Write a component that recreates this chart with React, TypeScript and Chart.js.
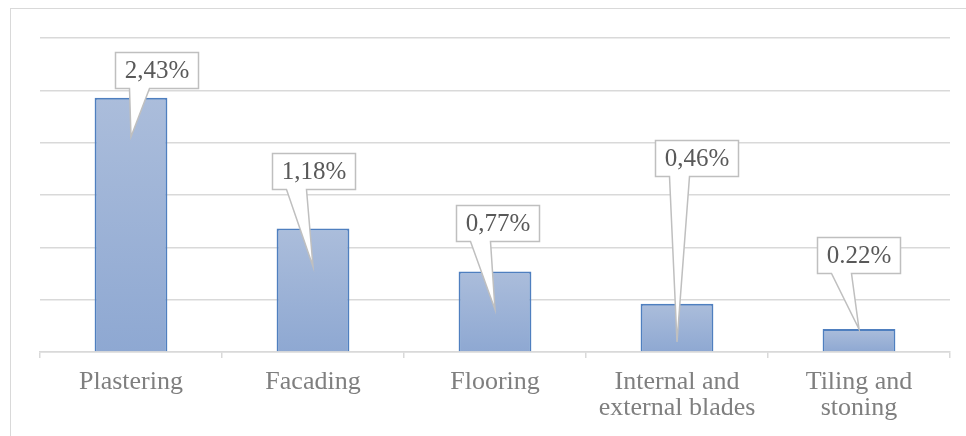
import React, { useEffect, useRef } from "react";
import { Chart, registerables } from "chart.js";

Chart.register(...registerables);

const FONT = "'Liberation Serif', serif";

const categories: (string | string[])[] = [
  "Plastering",
  "Facading",
  "Flooring",
  ["Internal and", "external blades"],
  ["Tiling and", "stoning"],
];
const values = [2.43, 1.18, 0.77, 0.46, 0.22];
const valueLabels = ["2,43%", "1,18%", "0,77%", "0,46%", "0.22%"];
const yMin = 0;
const yMax = 3;
const yStep = 0.5;

// callout placement relative to each bar (layout only)
const calloutPlacement = [
  { dx: 25, gap: 10, tip: 39 },
  { dx: 0, gap: 39, tip: 38 },
  { dx: 2, gap: 30, tip: 38 },
  { dx: 19, gap: 128, tip: 38 },
  { dx: -1, gap: 56, tip: 0 },
];

const calloutPlugin = {
  id: "callouts",
  afterDatasetsDraw(chart: any) {
    const meta = chart.getDatasetMeta(0);
    const ctx = chart.ctx as CanvasRenderingContext2D;
    ctx.save();
    ctx.font = `25px ${FONT}`;
    meta.data.forEach((bar: any, i: number) => {
      const p = calloutPlacement[i];
      const text = valueLabels[i];
      const tw = ctx.measureText(text).width;
      const w = Math.round(tw + 18);
      const h = 36;
      const left = Math.round(bar.x + p.dx - w / 2) + 0.5;
      const bottom = Math.round(bar.y - p.gap) + 0.5;
      const top = bottom - h;
      const tipX = bar.x;
      const tipY = bar.y + p.tip;
      ctx.beginPath();
      ctx.moveTo(left, top);
      ctx.lineTo(left + w, top);
      ctx.lineTo(left + w, bottom);
      ctx.lineTo(left + 34, bottom);
      ctx.lineTo(tipX, tipY);
      ctx.lineTo(left + 14, bottom);
      ctx.lineTo(left, bottom);
      ctx.closePath();
      ctx.fillStyle = "#ffffff";
      ctx.fill();
      ctx.strokeStyle = "#bfbfbf";
      ctx.lineWidth = 1.5;
      ctx.lineJoin = "miter";
      ctx.stroke();
      ctx.fillStyle = "#595959";
      ctx.textAlign = "center";
      ctx.textBaseline = "middle";
      ctx.fillText(text, left + w / 2, top + h / 2 + 1);
    });
    ctx.restore();
  },
};

export default function App() {
  const ref = useRef<HTMLCanvasElement>(null);
  useEffect(() => {
    if (!ref.current) return;
    const chart = new Chart(ref.current, {
      type: "bar",
      data: {
        labels: categories as any,
        datasets: [
          {
            data: values,
            backgroundColor: (c: any) => {
              const { ctx, chartArea, scales } = c.chart;
              if (!chartArea || c.type !== "data") return "#9fb4d8";
              const top = scales.y.getPixelForValue(values[c.dataIndex]);
              const base = scales.y.getPixelForValue(0);
              const g = ctx.createLinearGradient(0, top, 0, base);
              g.addColorStop(0, "#abbddb");
              g.addColorStop(1, "#8ea8d2");
              return g;
            },
            borderColor: "#4f7fbf",
            borderWidth: 2,
            barPercentage: 0.4,
            categoryPercentage: 1,
          },
        ],
      },
      options: {
        responsive: false,
        animation: false,
        devicePixelRatio: 1,
        layout: { padding: { left: 40, right: 16, top: 38, bottom: 0 } },
        plugins: {
          legend: { display: false },
          tooltip: { enabled: false },
        },
        scales: {
          x: {
            afterFit: (s: any) => {
              s.height = 84;
            },
            grid: {
              offset: true,
              drawOnChartArea: false,
              drawTicks: true,
              tickLength: 6,
              color: "#d9d9d9",
              lineWidth: 1.5,
            },
            border: { display: true, color: "#d9d9d9", width: 1.5 },
            ticks: {
              autoSkip: false,
              maxRotation: 0,
              padding: 11,
              color: "#7f7f7f",
              font: { family: FONT, size: 26, lineHeight: 1 },
            },
          },
          y: {
            min: yMin,
            max: yMax,
            ticks: { display: false, stepSize: yStep },
            grid: { color: "#d9d9d9", lineWidth: 1.5, drawTicks: false },
            border: { display: false },
          },
        },
      },
      plugins: [calloutPlugin],
    });
    return () => chart.destroy();
  }, []);

  return (
    <div
      style={{
        position: "fixed",
        left: 0,
        top: 0,
        width: 966,
        height: 436,
        overflow: "hidden",
        background: "#ffffff",
      }}
    >
      <div
        style={{
          position: "absolute",
          left: 10,
          top: 8,
          width: 2000,
          height: 2000,
          borderTop: "1.5px solid #d9d9d9",
          borderLeft: "1.5px solid #d9d9d9",
        }}
      />
      <canvas
        ref={ref}
        width={966}
        height={436}
        style={{ position: "absolute", left: 0, top: 0, width: 966, height: 436 }}
      />
    </div>
  );
}
